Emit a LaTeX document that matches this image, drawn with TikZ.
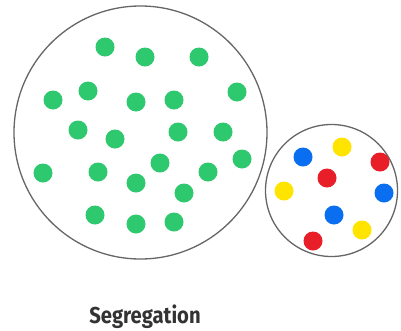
\documentclass[tikz,border=0pt]{standalone}
\usepackage{fontspec}
\setmainfont{Fira Sans}
\begin{document}
\begin{tikzpicture}[x=1pt,y=-1pt]
\definecolor{dgreen}{RGB}{46,200,110}
\definecolor{dblue}{RGB}{10,110,240}
\definecolor{dred}{RGB}{232,30,40}
\definecolor{dyellow}{RGB}{255,228,0}
\tikzset{
  ring/.style={draw=black!60, line width=1.3pt, fill=white},
  dot/.style={circle, inner sep=0pt, minimum size=19pt},
}
\useasboundingbox (0,0) rectangle (401,330);
\node[ring, circle, minimum size=253pt, inner sep=0pt] (big) at (140.5,132.5) {};
\node[ring, circle, minimum size=132pt, inner sep=0pt] (small) at (331.5,190.5) {};
\foreach \i/\x/\y in {1/105/47,2/145/57,3/199/57,4/53/100,5/88/91,6/136/102,7/174/100,8/237/92,
  9/78/130,10/115/139,11/178/132,12/223/132,13/242/159,14/43/173,15/98/172,16/160/163,
  17/136/183,18/208/172,19/184/193,20/95/215,21/136/224,22/174/222}
  \node[dot, fill=dgreen] (g\i) at (\x,\y) {};
\node[dot, fill=dblue] (b1) at (303,157) {};
\node[dot, fill=dyellow] (y1) at (342,147) {};
\node[dot, fill=dred] (r1) at (380,162) {};
\node[dot, fill=dred] (r2) at (327,178) {};
\node[dot, fill=dyellow] (y2) at (284,191) {};
\node[dot, fill=dblue] (b2) at (384,193) {};
\node[dot, fill=dblue] (b3) at (334,215) {};
\node[dot, fill=dyellow] (y3) at (362,230) {};
\node[dot, fill=dred] (r3) at (313,241) {};
\node[text=black!80, font=\bfseries\fontsize{23}{26}\selectfont, xscale=0.88, inner sep=0pt, anchor=base] (label) at (145,323) {Segregation};
\end{tikzpicture}
\end{document}
